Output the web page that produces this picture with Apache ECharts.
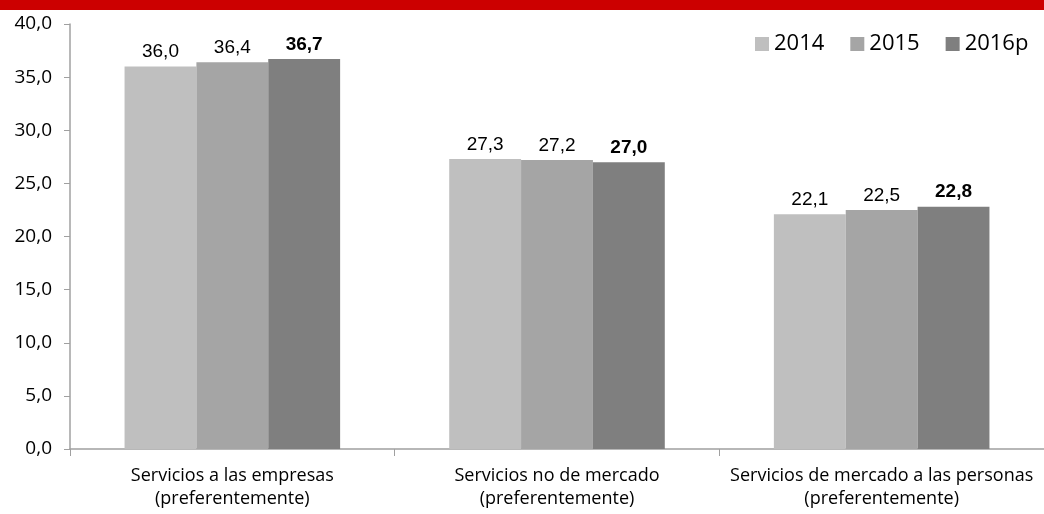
<!DOCTYPE html>
<html><head><meta charset="utf-8">
<script src="https://cdn.jsdelivr.net/npm/echarts@6/dist/echarts.min.js"></script>
<style>html,body{margin:0;padding:0;background:#fff}#c{width:1044px;height:514px}</style>
</head><body><div id="c"></div>
<script>
const categories = ['Servicios a las empresas\n(preferentemente)', 'Servicios no de mercado\n(preferentemente)', 'Servicios de mercado a las personas\n(preferentemente)'];
const seriesNames = ['2014', '2015', '2016p'];
const values2014 = [36.0, 27.3, 22.1];
const values2015 = [36.4, 27.2, 22.5];
const values2016p = [36.7, 27.0, 22.8];
const yTicks = {min: 0, max: 40, interval: 5};
const colors = ['#BFBFBF', '#A5A5A5', '#7F7F7F'];

const fmt = v => v.toFixed(1).replace('.', ',');
const labelFont = '"Liberation Sans Narrow", "Liberation Sans", sans-serif';
const mk = (name, data, color, bold) => ({
  name, type: 'bar', data, barGap: '0%', barCategoryGap: '33.6%',
  itemStyle: {color},
  label: {show: true, position: 'top', distance: 5, formatter: p => fmt(p.value),
    fontFamily: labelFont, fontSize: 19, color: '#000', fontWeight: bold ? 'bold' : 'normal'}
});
const chart = echarts.init(document.getElementById('c'), null, {renderer: 'canvas'});
chart.setOption({
  animation: false,
  textStyle: {fontFamily: '"Open Sans", sans-serif'},
  graphic: [{type: 'rect', left: 0, top: 0, shape: {width: 1044, height: 10}, style: {fill: '#CC0000'}, silent: true}],
  legend: {left: 750, top: 28, itemWidth: 14, itemHeight: 14, itemGap: 26,
    icon: 'rect', textStyle: {fontSize: 22, color: '#000', width: 52, fontFamily: '"Open Sans", sans-serif'},
    data: seriesNames},
  grid: {left: 70, top: 24, width: 982, bottom: 65, containLabel: false},
  xAxis: {type: 'category', data: categories,
    axisLine: {lineStyle: {color: '#A0A0A0', width: 1.5}},
    axisTick: {show: true, length: 7, lineStyle: {color: '#A0A0A0'}},
    axisLabel: {interval: 0, fontSize: 18, color: '#000', lineHeight: 23, margin: 15}},
  yAxis: {type: 'value', min: yTicks.min, max: yTicks.max, interval: yTicks.interval,
    splitLine: {show: false},
    axisLine: {show: true, lineStyle: {color: '#A0A0A0', width: 1.5}},
    axisTick: {show: true, length: 6, lineStyle: {color: '#A0A0A0'}},
    axisLabel: {fontSize: 19, color: '#000', margin: 18, formatter: v => fmt(v)}},
  series: [mk(seriesNames[0], values2014, colors[0], false),
           mk(seriesNames[1], values2015, colors[1], false),
           mk(seriesNames[2], values2016p, colors[2], true)]
});
</script></body></html>
